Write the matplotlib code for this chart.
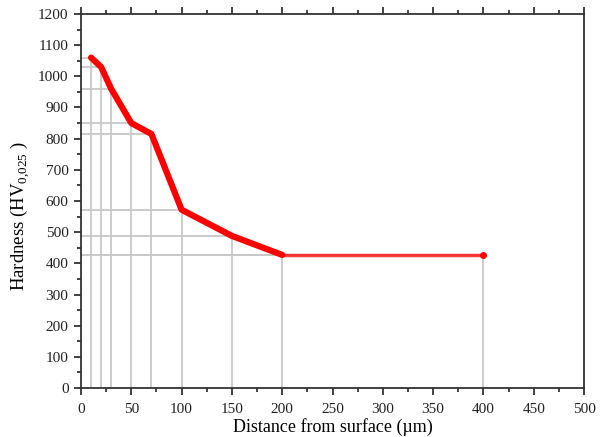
import matplotlib
matplotlib.use("Agg")
import matplotlib.pyplot as plt
from matplotlib.ticker import MultipleLocator

plt.rcParams['font.family'] = ['Liberation Serif', 'DejaVu Serif']
plt.rcParams['mathtext.fontset'] = 'custom'
plt.rcParams['mathtext.rm'] = 'Liberation Serif'

# measured hardness profile
depth = [10, 20, 30, 50, 70, 100, 150, 200]
hardness = [1060, 1030, 960, 850, 815, 572, 488, 427]
# flat tail (core hardness)
tail_depth = [200, 400]
tail_hardness = [427, 427]

# guide lines drawn at each measured point
guide_x = [10, 20, 30, 50, 70, 100, 150, 200, 400]
guide_y = [1060, 1030, 960, 850, 815, 572, 488, 427, 427]

fig = plt.figure(figsize=(6.06, 4.37), dpi=100)
ax = fig.add_axes([81 / 606, 1 - 388 / 437, 503 / 606, 374 / 437])

grid_col = '#c8c8c8'
for gx, gy in zip(guide_x, guide_y):
    ax.plot([gx, gx], [0, gy], color=grid_col, lw=1.3, zorder=1)
    ax.plot([0, gx], [gy, gy], color=grid_col, lw=1.3, zorder=1)

ax.plot(depth, hardness, color='#ff0000', lw=4.5, solid_capstyle='round',
        solid_joinstyle='round', zorder=3)
ax.plot(tail_depth, tail_hardness, color='#ff0000', lw=2.5, alpha=0.75, zorder=3)
ax.plot(tail_depth[-1:], tail_hardness[-1:], 'o', color='#ff0000', ms=4, zorder=4)

ax.set_xlim(0, 500)
ax.set_ylim(0, 1200)
ax.xaxis.set_major_locator(MultipleLocator(50))
ax.xaxis.set_minor_locator(MultipleLocator(25))
ax.yaxis.set_major_locator(MultipleLocator(100))
ax.yaxis.set_minor_locator(MultipleLocator(50))

ax.tick_params(which='both', direction='out', top=True, right=False,
               labelsize=11, width=1.2, colors='#222222')
ax.tick_params(which='major', length=5)
ax.tick_params(which='minor', length=3)
ax.tick_params(axis='x', pad=6)
ax.tick_params(axis='y', pad=4)
for s in ax.spines.values():
    s.set_linewidth(1.3)
    s.set_color('#333333')

ax.set_xlabel('Distance from surface (µm)', fontsize=13, labelpad=1)
ax.set_ylabel(r'Hardness (HV$_{\mathrm{0{,}025}}$ )', fontsize=13.5)
ax.yaxis.set_label_coords(-0.097, 0.46)

fig.savefig('out.png', dpi=100)
